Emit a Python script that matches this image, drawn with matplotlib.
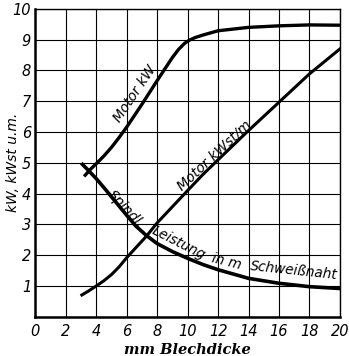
import matplotlib.pyplot as plt

# values
motor_x = [3.28, 3.6, 4.0, 4.5, 5.0, 5.5, 6.0, 7.0, 8.0, 8.6, 9.0, 9.4, 9.8, 10.1, 10.5, 11.0, 12.0, 14.0, 16.0, 18.0, 20.0]
motor_y = [4.6, 4.78, 4.97, 5.22, 5.5, 5.82, 6.16, 6.9, 7.67, 8.12, 8.42, 8.68, 8.88, 8.98, 9.07, 9.15, 9.29, 9.4, 9.45, 9.48, 9.47]

kwst_x = [3.06, 3.5, 4.0, 4.5, 5.0, 5.5, 6.0, 7.3, 8.0, 10.0, 11.0, 12.0, 14.0, 16.0, 18.0, 20.0]
kwst_y = [0.71, 0.84, 1.0, 1.17, 1.37, 1.62, 1.92, 2.62, 3.05, 4.1, 4.62, 5.1, 6.05, 6.97, 7.89, 8.7]

spindl_x = [3.1, 3.5, 4.0, 4.5, 4.92, 5.5, 6.0, 6.6, 7.3, 8.0, 9.0, 10.0, 11.0, 12.0, 14.0, 16.0, 18.0, 20.0]
spindl_y = [4.95, 4.75, 4.49, 4.2, 3.95, 3.6, 3.3, 2.95, 2.64, 2.38, 2.12, 1.9, 1.7, 1.53, 1.25, 1.09, 0.98, 0.92]

xticks = list(range(0, 21, 2))
yticks = list(range(0, 11))

fig = plt.figure(figsize=(3.49, 3.56), dpi=100)
ax = fig.add_axes([0.101, 0.110, 0.873, 0.865])

lab = dict(family="DejaVu Sans", style="italic", fontsize=9.8)

ax.plot(motor_x, motor_y, color="black", lw=2.4, solid_joinstyle="round")
ax.plot(kwst_x, kwst_y, color="black", lw=2.2, solid_joinstyle="round")
ax.plot(spindl_x, spindl_y, color="black", lw=2.6, solid_joinstyle="round")

ax.text(6.55, 7.25, "Motor kW", rotation=56, ha="center", va="center", **lab)
ax.text(11.75, 5.25, "Motor kWst/m", rotation=43, ha="center", va="center", **lab)
ax.text(5.95, 3.5, "Spindl.", rotation=-47, ha="center", va="center", **lab)
ax.text(9.4, 2.4, "Leistung", rotation=-27, ha="center", va="center", **lab)
ax.text(12.55, 1.78, "in m", rotation=-14, ha="center", va="center", **lab)
ax.text(17.0, 1.5, "Schweißnaht", rotation=-6, ha="center", va="center", **lab)

ax.set_xlim(0, 20)
ax.set_ylim(0, 10)
ax.set_xticks(xticks)
ax.set_yticks(yticks)
ax.set_yticklabels(["" if v == 0 else str(v) for v in yticks])
ax.tick_params(length=0)
ax.tick_params(axis="y", pad=3)
ax.tick_params(axis="x", pad=5)
for t in ax.get_xticklabels() + ax.get_yticklabels():
    t.set_fontstyle("italic")
    t.set_fontsize(10.5)
ax.grid(True, color="black", lw=0.8)
for s in ax.spines.values():
    s.set_linewidth(1.0)
ax.spines["left"].set_linewidth(1.8)
ax.spines["bottom"].set_linewidth(1.8)

ax.set_xlabel("mm Blechdicke", family="DejaVu Serif", style="italic",
              fontweight="bold", fontsize=10.5, labelpad=3)
ax.set_ylabel("kW, kWst u.m.", style="italic", fontsize=10)
ax.yaxis.set_label_coords(-0.05, 0.5)

plt.savefig("out.png", dpi=100)
